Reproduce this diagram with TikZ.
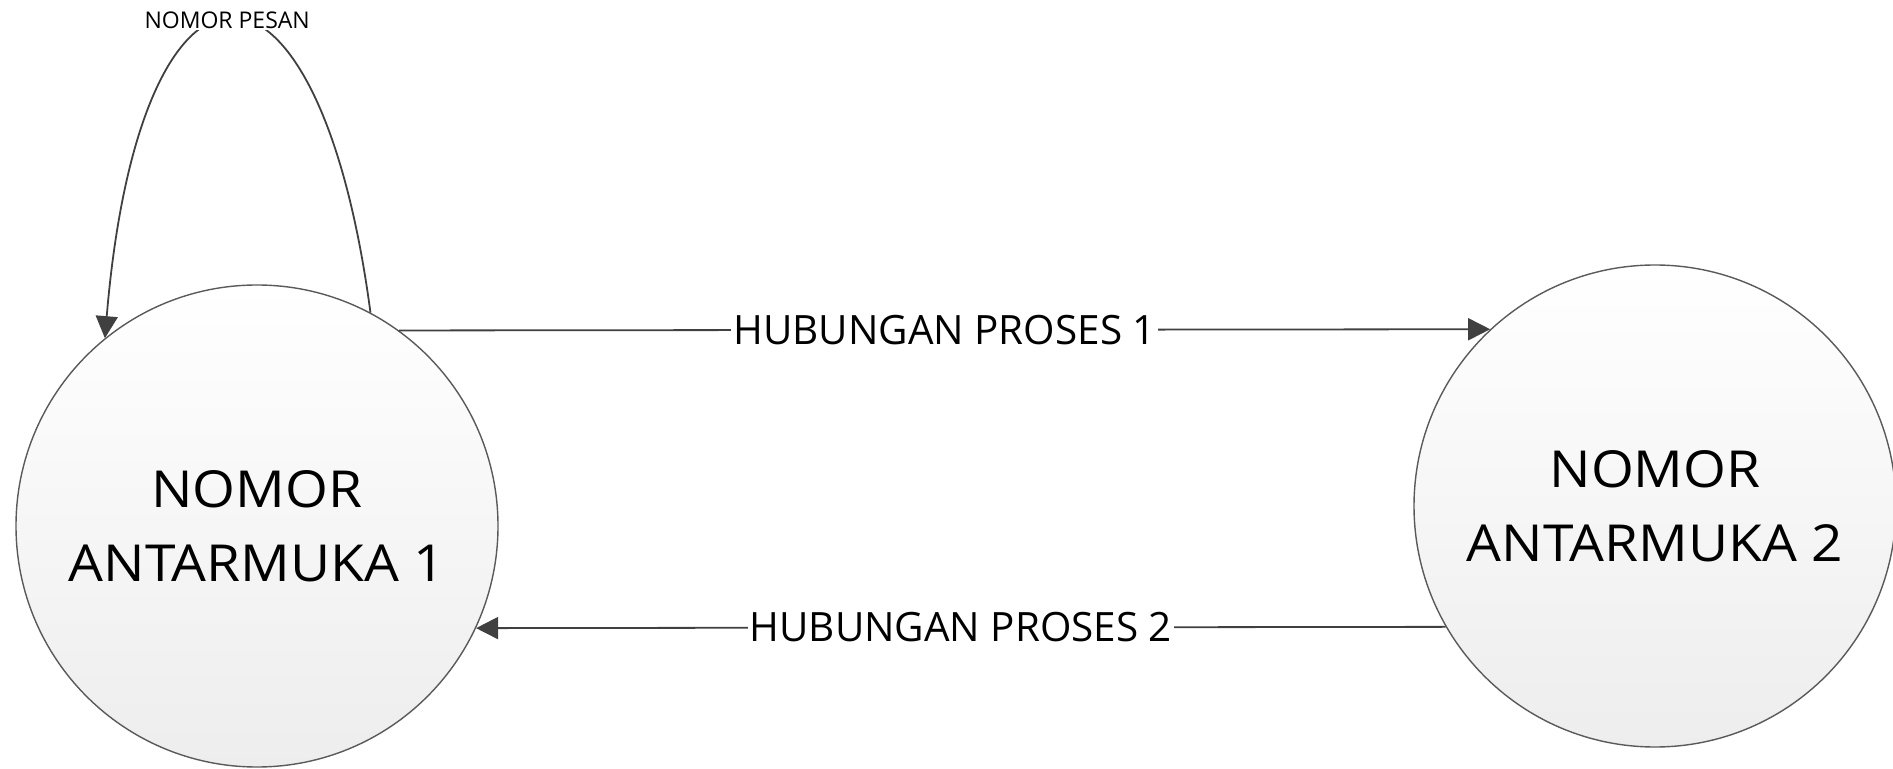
\documentclass[tikz,border=0pt]{standalone}
\usepackage{fontspec}
\setmainfont{Open Sans}
\newfontfamily\circfont[FakeStretch=1.08]{Open Sans}
\usetikzlibrary{arrows.meta}
\definecolor{edgegray}{HTML}{404040}
\definecolor{rimgray}{HTML}{5A5A5A}

\begin{document}
\begin{tikzpicture}[x=0.5pt,y=-0.5pt,
  state/.style={circle,draw=rimgray,line width=0.7pt,minimum size=241pt,inner sep=0pt,
                top color=white,bottom color=black!7,align=center,
                font=\circfont\fontsize{25.5}{37}\selectfont},
  arr/.style={-{Triangle[length=11pt,width=11pt]},line width=0.9pt,edgegray},
  lbl/.style={fill=white,inner sep=1pt,text=black,font=\fontsize{20.2}{22}\selectfont}
]
\useasboundingbox (0,0) rectangle (1893,769);
\node[state] (iface1) at (257,526) {NOMOR\\ANTARMUKA 1};
\node[state] (iface2) at (1655,506) {NOMOR\\ANTARMUKA 2};
\draw[arr] (iface1.54) -- node[lbl] {HUBUNGAN PROSES 1} (iface2.133);
\draw[arr] (iface2.210.2) -- node[lbl] {HUBUNGAN PROSES 2} (iface1.-25.1);
% self loop on the first interface
\draw[arr] (iface1.62.4) .. controls (318,-82) and (140,-82) ..
  node[lbl,midway,xshift=-2pt,font=\fontsize{11.5}{13}\selectfont] {NOMOR PESAN} (iface1.129.3);
\end{tikzpicture}
\end{document}
